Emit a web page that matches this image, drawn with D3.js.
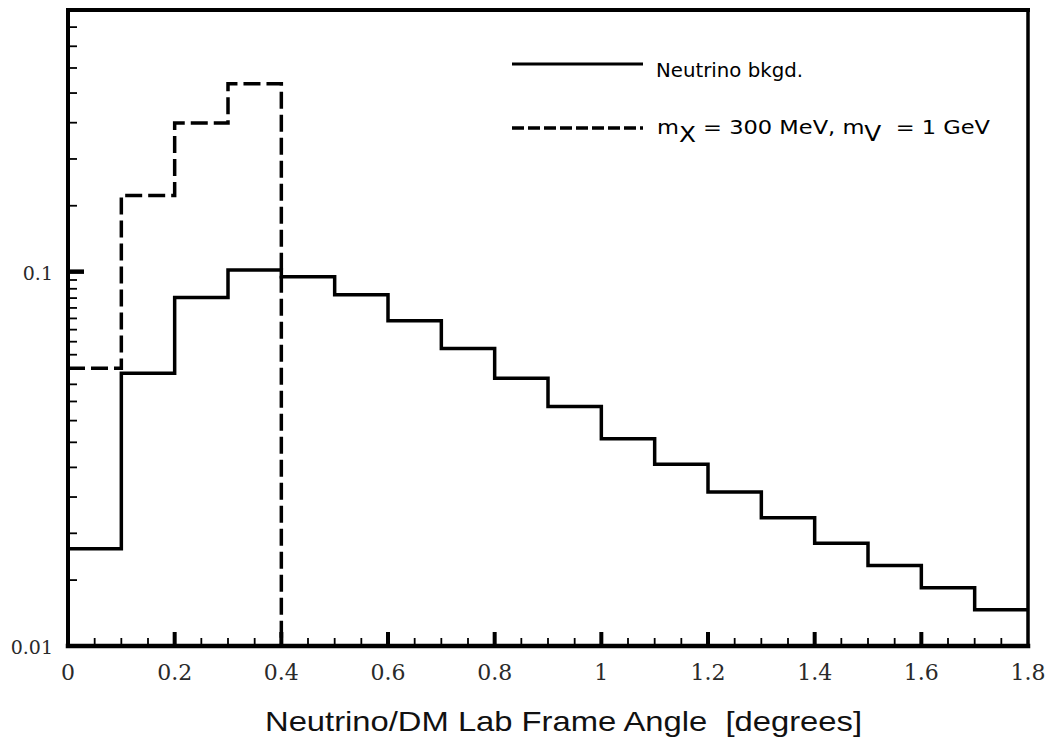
<!DOCTYPE html>
<html>
<head>
<meta charset="utf-8">
<script src="https://cdn.jsdelivr.net/npm/d3@7"></script>
<style>
html,body{margin:0;padding:0;background:#fff;}
svg{display:block;}
</style>
</head>
<body>
<svg id="chart" width="1052" height="744"></svg>
<script>
// ---- data ----
const binEdges = [0, 0.1, 0.2, 0.3, 0.4, 0.5, 0.6, 0.7, 0.8, 0.9, 1.0, 1.1, 1.2, 1.3, 1.4, 1.5, 1.6, 1.7, 1.8];
const neutrinoBkgd = [0.0182, 0.0535, 0.0853, 0.1011, 0.0969, 0.0867, 0.0739, 0.0623, 0.0519, 0.0436,
                      0.0358, 0.0306, 0.0258, 0.0220, 0.0188, 0.0164, 0.0143, 0.0125];
const dmEdges = [0, 0.1, 0.2, 0.3, 0.4];
const dmSignal = [0.0552, 0.1598, 0.2495, 0.3177];

const xMajorTicks = [0, 0.2, 0.4, 0.6, 0.8, 1.0, 1.2, 1.4, 1.6, 1.8];
const xTickLabels = ["0", "0.2", "0.4", "0.6", "0.8", "1", "1.2", "1.4", "1.6", "1.8"];
const xMinorTicks = [0.05, 0.1, 0.15, 0.25, 0.3, 0.35, 0.45, 0.5, 0.55, 0.65, 0.7, 0.75, 0.85, 0.9, 0.95,
                     1.05, 1.1, 1.15, 1.25, 1.3, 1.35, 1.45, 1.5, 1.55, 1.65, 1.7, 1.75];
const yMajorTicks = [0.1];
const yMinorTicks = [0.015, 0.02, 0.025, 0.03, 0.035, 0.04, 0.045, 0.05, 0.055, 0.06, 0.065, 0.07, 0.075,
                     0.08, 0.085, 0.09, 0.095, 0.15, 0.2, 0.25, 0.3, 0.35, 0.4, 0.45];
const yTickValues = [0.01, 0.1];
const yTickLabels = ["0.01", "0.1"];
const xDomain = [0, 1.8];
const yDomain = [0.01, 0.5];
const legendLabels = ["Neutrino bkgd."];
const xTitle = "Neutrino/DM Lab Frame Angle\u00A0\u00A0[degrees]";

// ---- layout ----
const L = 68, R = 1028, T = 10, B = 646;
const svg = d3.select("#chart");
const x = d3.scaleLinear().domain(xDomain).range([L, R]);
const y = d3.scaleLog().domain(yDomain).range([B, T]);

// minor x ticks
svg.append("g").selectAll("line").data(xMinorTicks).join("line")
  .attr("x1", d => x(d)).attr("x2", d => x(d))
  .attr("y1", B).attr("y2", B - 8)
  .attr("stroke", "#000").attr("stroke-width", 1.8);
// major x ticks
svg.append("g").selectAll("line").data(xMajorTicks.slice(1, -1)).join("line")
  .attr("x1", d => x(d)).attr("x2", d => x(d))
  .attr("y1", B).attr("y2", B - 14)
  .attr("stroke", "#000").attr("stroke-width", 4);
// minor y ticks
svg.append("g").selectAll("line").data(yMinorTicks).join("line")
  .attr("x1", L).attr("x2", L + 9)
  .attr("y1", d => y(d)).attr("y2", d => y(d))
  .attr("stroke", "#000").attr("stroke-width", 1.8);
// major y ticks
svg.append("g").selectAll("line").data(yMajorTicks).join("line")
  .attr("x1", L).attr("x2", L + 16)
  .attr("y1", d => y(d)).attr("y2", d => y(d))
  .attr("stroke", "#000").attr("stroke-width", 4.5);

// tick labels
svg.append("g").selectAll("text").data(xMajorTicks).join("text")
  .attr("x", d => x(d)).attr("y", 680)
  .attr("text-anchor", "middle")
  .attr("font-family", "DejaVu Serif").attr("font-size", 22)
  .attr("fill", "#2a2a2a")
  .text((d, i) => xTickLabels[i]);
svg.append("g").selectAll("text").data(yTickValues).join("text")
  .attr("x", 53).attr("y", d => y(d) + 8)
  .attr("text-anchor", "end")
  .attr("font-family", "DejaVu Serif").attr("font-size", 19)
  .attr("fill", "#2a2a2a")
  .text((d, i) => yTickLabels[i]);

// histograms
const stepLine = d3.line().x(d => x(d[0])).y(d => y(d[1])).curve(d3.curveStepAfter);
const nPts = binEdges.map((e, i) => [e, neutrinoBkgd[Math.min(i, neutrinoBkgd.length - 1)]]);
svg.append("path").attr("d", stepLine(nPts))
  .attr("fill", "none").attr("stroke", "#000").attr("stroke-width", 3.5)
  .attr("stroke-linejoin", "miter");
const dPts = dmEdges.map((e, i) => [e, dmSignal[Math.min(i, dmSignal.length - 1)]]);
dPts.push([dmEdges[dmEdges.length - 1], yDomain[0]]);
svg.append("path").attr("d", stepLine(dPts))
  .attr("fill", "none").attr("stroke", "#000").attr("stroke-width", 3.5)
  .attr("stroke-dasharray", "17,6");

// frame
const frame = svg.append("g").attr("stroke", "#000").attr("stroke-linecap", "square");
frame.append("line").attr("x1", L).attr("x2", R).attr("y1", T).attr("y2", T).attr("stroke-width", 4);
frame.append("line").attr("x1", R).attr("x2", R).attr("y1", T).attr("y2", B).attr("stroke-width", 3.5);
frame.append("line").attr("x1", L).attr("x2", L).attr("y1", T).attr("y2", B).attr("stroke-width", 4);
frame.append("line").attr("x1", L).attr("x2", R).attr("y1", B).attr("y2", B).attr("stroke-width", 4.5);

// legend
svg.append("line").attr("x1", 512).attr("x2", 643).attr("y1", 64).attr("y2", 64)
  .attr("stroke", "#000").attr("stroke-width", 3);
svg.append("text").attr("x", 656).attr("y", 77)
  .attr("font-family", "DejaVu Sans").attr("font-size", 20)
  .attr("textLength", 147).attr("lengthAdjust", "spacingAndGlyphs")
  .text(legendLabels[0]);
svg.append("line").attr("x1", 512).attr("x2", 643).attr("y1", 128).attr("y2", 128)
  .attr("stroke", "#000").attr("stroke-width", 3.5).attr("stroke-dasharray", "12,4");
const lt = svg.append("text").attr("x", 657).attr("y", 134)
  .attr("font-family", "DejaVu Sans").attr("font-size", 20)
  .attr("textLength", 333).attr("lengthAdjust", "spacingAndGlyphs");
lt.append("tspan").text("m");
lt.append("tspan").attr("dy", 8).attr("font-size", 22).text("Χ");
lt.append("tspan").attr("dy", -8).text(" = 300 MeV, m");
lt.append("tspan").attr("dy", 7).attr("font-size", 22).text("V");
lt.append("tspan").attr("dy", -7).text("\u00A0\u00A0= 1 GeV");

// axis title
svg.append("text").attr("x", 265).attr("y", 731)
  .attr("font-family", "Liberation Sans").attr("font-size", 28)
  .attr("textLength", 597).attr("lengthAdjust", "spacingAndGlyphs")
  .attr("fill", "#111")
  .text(xTitle);
</script>
</body>
</html>
